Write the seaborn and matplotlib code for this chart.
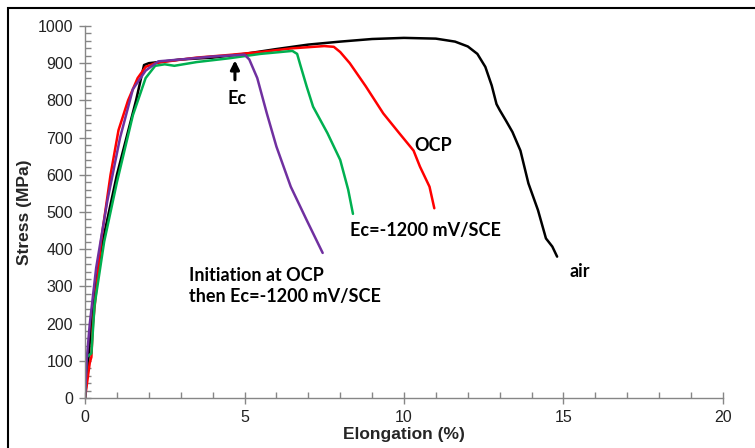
import numpy as np
import pandas as pd
import matplotlib
matplotlib.use("Agg")
import matplotlib.pyplot as plt
import seaborn as sns
from matplotlib.ticker import MultipleLocator
from matplotlib.patches import Rectangle

# curves (elongation %, stress MPa)
air_x = [0, 0.1, 0.25, 0.5, 1.0, 1.6, 1.85, 2.0, 3.0, 4.0, 5.0, 6.0, 7.0, 8.0, 9.0, 10.0,
         11.0, 11.6, 12.0, 12.3, 12.55, 12.75, 12.9, 13.0, 13.2, 13.4, 13.65, 13.9, 14.2,
         14.45, 14.65, 14.8]
air_y = [0, 100, 250, 400, 600, 800, 895, 900, 910, 915, 925, 938, 950, 958, 965, 968,
         966, 958, 945, 925, 890, 840, 790, 774, 745, 715, 665, 577, 505, 429, 407, 380]

ocp_x = [0, 0.15, 0.2, 0.25, 0.5, 0.8, 1.05, 1.35, 1.65, 1.9, 2.2, 2.6, 3.5, 4.5, 5.5, 6.5,
         7.5, 7.8, 8.0, 8.3, 8.8, 9.35, 9.85, 10.3, 10.5, 10.8, 10.95]
ocp_y = [0, 95, 110, 200, 420, 600, 720, 800, 860, 890, 900, 905, 915, 922, 930, 940,
         946, 944, 930, 900, 838, 765, 712, 665, 622, 568, 510]

ec_x = [0, 0.05, 0.2, 0.3, 0.6, 1.0, 1.5, 1.9, 2.2, 2.5, 2.8, 3.5, 4.5, 5.5, 6.5, 6.65,
        6.75, 6.95, 7.15, 7.6, 8.0, 8.25, 8.4]
ec_y = [0, 110, 120, 250, 420, 580, 760, 860, 893, 897, 893, 903, 913, 925, 933, 925,
        895, 837, 783, 712, 640, 560, 495]

init_x = [0, 0.05, 0.15, 0.35, 0.7, 1.1, 1.5, 1.9, 2.3, 3.0, 4.0, 5.0, 5.15, 5.4, 5.7,
          6.0, 6.45, 6.95, 7.45]
init_y = [0, 100, 200, 350, 530, 700, 830, 880, 905, 910, 918, 923, 910, 860, 765, 676,
          568, 478, 390]

sns.set_style("white")
plt.rcParams["font.family"] = ["Liberation Sans", "DejaVu Sans"]

fig = plt.figure(figsize=(7.55, 4.48), dpi=100)
ax = fig.add_axes([0.1126, 0.1116, 0.845, 0.8304])

series = [(air_x, air_y, "black"), (ocp_x, ocp_y, "#FF0000"),
          (ec_x, ec_y, "#00B050"), (init_x, init_y, "#7030A0")]
for xs, ys, col in series:
    df = pd.DataFrame({"x": xs, "y": ys})
    sns.lineplot(data=df, x="x", y="y", sort=False, estimator=None,
                 color=col, lw=1.8, ax=ax)

ax.set_xlim(0, 20)
ax.set_ylim(0, 1000)
ax.xaxis.set_major_locator(MultipleLocator(5))
ax.xaxis.set_minor_locator(MultipleLocator(1))
ax.yaxis.set_major_locator(MultipleLocator(100))
ax.yaxis.set_minor_locator(MultipleLocator(20))

for s in ["top", "right"]:
    ax.spines[s].set_visible(False)
for s in ["left", "bottom"]:
    ax.spines[s].set_color("#868686")
    ax.spines[s].set_linewidth(1.0)

ax.tick_params(which="major", direction="inout", length=9, width=1, color="#868686",
               labelsize=11.5, labelcolor="#222222", pad=4)
ax.tick_params(which="minor", direction="in", length=4, width=1, color="#868686")
ax.tick_params(axis="x", which="both", bottom=True)
ax.tick_params(axis="y", which="both", left=True)

ax.set_xlabel("Elongation (%)", fontsize=12.5, fontweight="bold", labelpad=1.5)
ax.set_ylabel("Stress (MPa)", fontsize=12.5, fontweight="bold", labelpad=4)

lab = dict(family=["Lato", "DejaVu Sans"], fontweight="bold", fontsize=13, color="black")
ax.text(4.76, 805, "Ec", ha="center", va="center", **lab)
ax.annotate("", xy=(4.7, 915), xytext=(4.7, 848),
            arrowprops=dict(arrowstyle="-|>", color="black", lw=2.2, mutation_scale=13))
ax.text(10.34, 680, "OCP", ha="left", va="center", **lab)
ax.text(8.31, 449, "Ec=-1200 mV/SCE", ha="left", va="center", **lab)
ax.text(3.26, 302, "Initiation at OCP\nthen Ec=-1200 mV/SCE", ha="left", va="center",
        linespacing=1.3, **lab)
ax.text(15.2, 339, "air", ha="left", va="center", **lab)

# outer frame
fig.patches.append(Rectangle((8 / 755, -0.1), 1.2, 1 - 8 / 448 + 0.1, transform=fig.transFigure,
                             fill=False, edgecolor="black", lw=1.5))

fig.savefig("out.png", dpi=100)
